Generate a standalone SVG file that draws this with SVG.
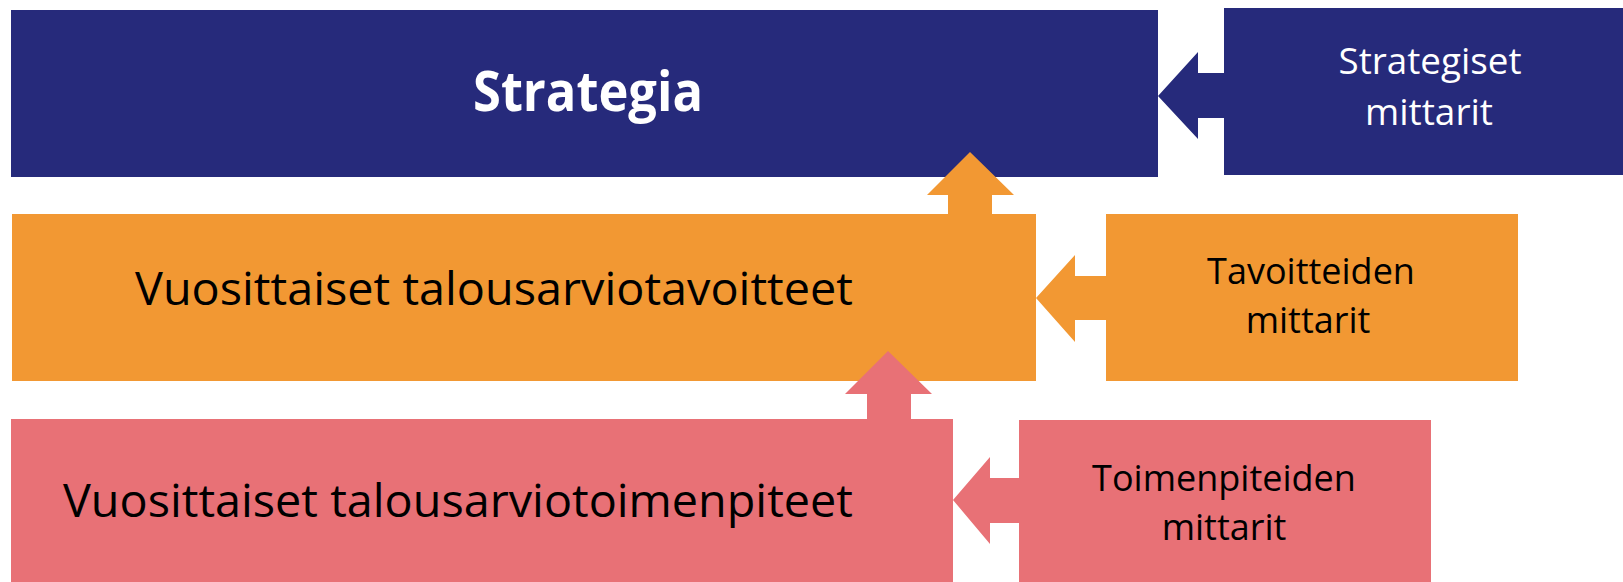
<svg xmlns="http://www.w3.org/2000/svg" width="1623" height="582" viewBox="0 0 1623 582">
<style>
.blue{fill:#262A7B}
.orange{fill:#F29833}
.pink{fill:#E87176}
.t{font-family:"Open Sans","Liberation Sans",sans-serif}
.big{font-size:45px;fill:#000}
.small{font-size:36px;text-anchor:middle}
</style>
<rect width="1623" height="582" fill="#fff"/>
<g id="strategia">
<rect class="blue" x="11" y="10" width="1147" height="167"/>
<text class="t" x="473" y="111" font-size="56" font-weight="bold" fill="#fff" textLength="230" lengthAdjust="spacingAndGlyphs">Strategia</text>
</g>
<g id="strategiset-mittarit">
<rect class="blue" x="1224" y="8" width="399" height="167"/>
<text class="t small" fill="#fff"><tspan x="1430" y="74" textLength="183" lengthAdjust="spacingAndGlyphs">Strategiset</tspan><tspan x="1429" y="125" textLength="128" lengthAdjust="spacingAndGlyphs">mittarit</tspan></text>
</g>
<g id="tavoitteet">
<rect class="orange" x="12" y="214" width="1024" height="167"/>
<text class="t big" x="135" y="305" textLength="718" lengthAdjust="spacingAndGlyphs">Vuosittaiset talousarviotavoitteet</text>
</g>
<g id="tavoitteiden-mittarit">
<rect class="orange" x="1106" y="214" width="412" height="167"/>
<text class="t small" fill="#000"><tspan x="1311" y="284">Tavoitteiden</tspan><tspan x="1308" y="333">mittarit</tspan></text>
</g>
<g id="toimenpiteet">
<rect class="pink" x="11" y="419" width="942" height="163"/>
<text class="t big" x="63" y="517" textLength="790" lengthAdjust="spacingAndGlyphs">Vuosittaiset talousarviotoimenpiteet</text>
</g>
<g id="toimenpiteiden-mittarit">
<rect class="pink" x="1019" y="420" width="412" height="162"/>
<text class="t small" fill="#000"><tspan x="1224" y="491">Toimenpiteiden</tspan><tspan x="1224" y="540">mittarit</tspan></text>
</g>
<g id="connectors">
<polygon class="blue" points="1158,96 1198,52 1198,73 1224,73 1224,118 1198,118 1198,139"/>
<polygon class="orange" points="970,152 1014,195 992,195 992,214 948,214 948,195 927,195"/>
<polygon class="orange" points="1036,298 1075,255 1075,276 1106,276 1106,320 1075,320 1075,342"/>
<polygon class="pink" points="888,351 932,394 911,394 911,419 867,419 867,394 845,394"/>
<polygon class="pink" points="953,500 990,457 990,478 1019,478 1019,523 990,523 990,544"/>
</g>
</svg>
